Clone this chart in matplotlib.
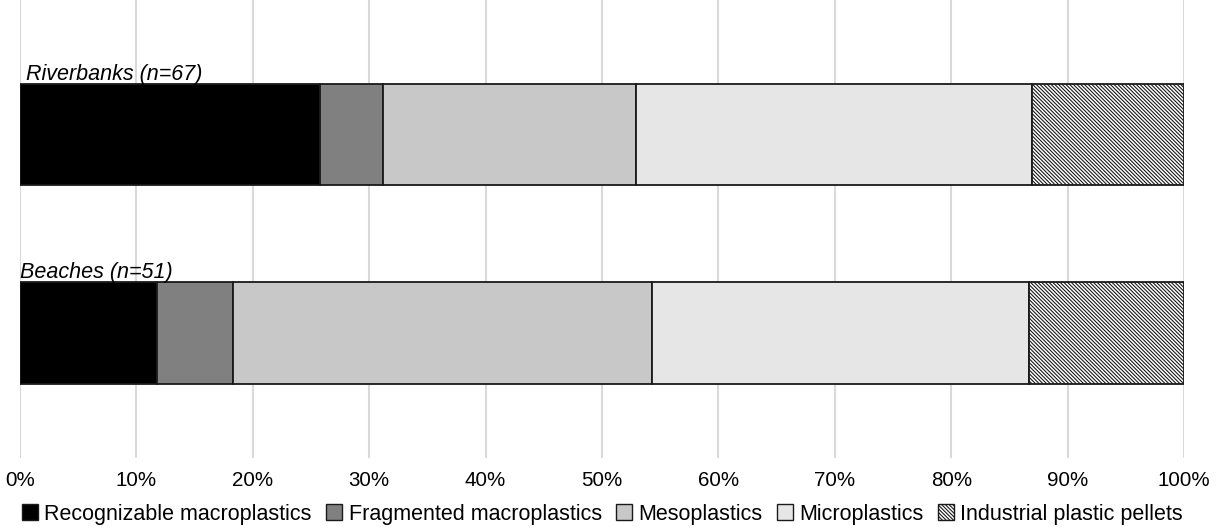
import numpy as np
import matplotlib.pyplot as plt
from matplotlib.patches import Patch
from matplotlib.ticker import PercentFormatter

plt.rcParams['font.family'] = ['Liberation Sans', 'DejaVu Sans']
plt.rcParams['hatch.linewidth'] = 0.8

# Daten
sites = ["Beaches (n=51)", "Riverbanks (n=67)"]
categories = ["Recognizable macroplastics", "Fragmented macroplastics",
              "Mesoplastics", "Microplastics", "Industrial plastic pellets"]
beaches = [11.8, 6.5, 36.0, 32.4, 13.3]
riverbanks = [25.8, 5.4, 21.7, 34.0, 13.1]

colors = ["#000000", "#808080", "#c8c8c8", "#e7e6e6", "#ffffff"]
hatches = [None, None, None, None, "\\" * 9]

values = np.array([beaches, riverbanks])
y = np.arange(len(sites))

fig = plt.figure(figsize=(12.28, 5.27), dpi=100)
ax = fig.add_axes([20 / 1228, 1 - 458 / 527, 1164 / 1228, 458 / 527])

left = np.zeros(len(sites))
for i, cat in enumerate(categories):
    ax.barh(y, values[:, i], left=left, height=0.51, color=colors[i],
            edgecolor="#1a1a1a", linewidth=1.3, hatch=hatches[i], zorder=3)
    left += values[:, i]

for yi, name in zip(y, sites):
    x0 = 0.55 if name.startswith("River") else 0.0
    ax.text(x0, yi + 0.255 + 0.022, name, style="italic", fontsize=15.5,
            ha="left", va="baseline")

ax.set_xlim(0, 100)
ax.set_ylim(-0.63, 1.678)
ax.set_xticks(np.arange(0, 101, 10))
ax.xaxis.set_major_formatter(PercentFormatter(decimals=0))
ax.tick_params(axis="x", length=0, pad=9, labelsize=14.8)
ax.set_yticks([])
ax.grid(axis="x", color="#d9d9d9", linewidth=1.5, zorder=0)
for s in ax.spines.values():
    s.set_visible(False)

handles = [Patch(facecolor=colors[i], edgecolor="#1a1a1a", hatch=hatches[i],
                 linewidth=1.0, label=categories[i]) for i in range(len(categories))]
fig.legend(handles=handles, loc="lower left", bbox_to_anchor=(20 / 1228, 0.0),
           ncol=5, frameon=False, fontsize=15.5, handlelength=0.75,
           handleheight=0.75, handletextpad=0.28, columnspacing=0.68,
           borderaxespad=0.0, borderpad=0.1)

fig.savefig("out.png", dpi=100)
